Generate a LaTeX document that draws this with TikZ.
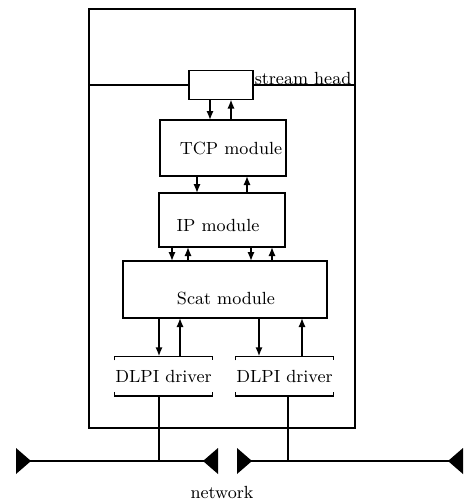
\documentclass[tikz,border=0pt]{standalone}
\usetikzlibrary{arrows.meta}
\begin{document}
\begin{tikzpicture}[x=0.5pt,y=-0.5pt,
  line width=0.75pt,
  box/.style={draw,inner sep=0pt,outer sep=0pt},
  lbl/.style={inner sep=0pt,font=\fontsize{8.8}{10}\selectfont},
  arr/.style={-{Latex[length=4.5pt,width=3.6pt]}},
  term/.style={fill=black,draw=none}]
\useasboundingbox (0,0) rectangle (463,499);
% outer system box
\node[box,minimum width=133pt,minimum height=209.5pt] (sys) at (222,218.5) {};
% stream head
\node[box,minimum width=32pt,minimum height=14.5pt] (sh) at (221,85) {};
\node[lbl,anchor=base west] (shl) at (254,84) {stream head};
\draw (sys.west |- sh.west) -- (sh.west);
\draw (sh.east) -- (sys.east |- sh.east);
% modules
\node[box,minimum width=63pt,minimum height=28pt] (tcp) at (223,148) {};
\node[lbl] (tcpl) at (231,148) {TCP module};
\node[box,minimum width=63pt,minimum height=27pt] (ip) at (222,220) {};
\node[lbl] (ipl) at (218,225) {IP module};
\node[box,minimum width=102pt,minimum height=28.5pt] (scat) at (225,289.5) {};
\node[lbl] (scatl) at (226,298) {Scat module};
% DLPI drivers (bracketed)
\node[lbl,minimum width=42.5pt,minimum height=19pt] (d1) at (163.5,376) {DLPI driver};
\node[lbl,minimum width=42.5pt,minimum height=19pt] (d2) at (284.5,376) {DLPI driver};
\foreach \d in {d1,d2}{
  \draw ([yshift=-2pt]\d.north west) -- (\d.north west) -- (\d.north east) -- ([yshift=-2pt]\d.north east);
  \draw ([yshift=2pt]\d.south west) -- (\d.south west) -- (\d.south east) -- ([yshift=2pt]\d.south east);
}
% x positions of arrows
\coordinate (a1) at (210,0);
\coordinate (a2) at (231,0);
\coordinate (b1) at (197,0);
\coordinate (b2) at (247,0);
\coordinate (c1) at (172,0);
\coordinate (c2) at (188,0);
\coordinate (c3) at (251,0);
\coordinate (c4) at (272,0);
\coordinate (e1) at (159,0);
\coordinate (e2) at (180,0);
\coordinate (e3) at (259,0);
\coordinate (e4) at (302,0);
% arrows
\draw[arr] (sh.south -| a1) -- (tcp.north -| a1);
\draw[arr] (tcp.north -| a2) -- (sh.south -| a2);
\draw[arr] (tcp.south -| b1) -- (ip.north -| b1);
\draw[arr] (ip.north -| b2) -- (tcp.south -| b2);
\draw[arr] (ip.south -| c1) -- (scat.north -| c1);
\draw[arr] (scat.north -| c2) -- (ip.south -| c2);
\draw[arr] (ip.south -| c3) -- (scat.north -| c3);
\draw[arr] (scat.north -| c4) -- (ip.south -| c4);
\draw[arr] (scat.south -| e1) -- (d1.north -| e1);
\draw[arr] (d1.north -| e2) -- (scat.south -| e2);
\draw[arr] (scat.south -| e3) -- (d2.north -| e3);
\draw[arr] (d2.north -| e4) -- (scat.south -| e4);
% network
\coordinate (n1a) at (16,461);
\coordinate (n1b) at (218,461);
\coordinate (n2a) at (237,461);
\coordinate (n2b) at (463,461);
\draw (n1a) -- (n1b);
\draw (n2a) -- (n2b);
\fill[term] (n1a) ++(0,-13) -- ++(15,13) -- ++(-15,13) -- cycle;
\fill[term] (n1b) ++(0,-13) -- ++(-15,13) -- ++(15,13) -- cycle;
\fill[term] (n2a) ++(0,-13) -- ++(15,13) -- ++(-15,13) -- cycle;
\fill[term] (n2b) ++(0,-13) -- ++(-15,13) -- ++(15,13) -- cycle;
\coordinate (x1) at (159,0);
\coordinate (x2) at (288,0);
\draw (d1.south -| x1) -- (n1a -| x1);
\draw (d2.south -| x2) -- (n2a -| x2);
\node[lbl] (net) at (222,492) {network};
\end{tikzpicture}
\end{document}
